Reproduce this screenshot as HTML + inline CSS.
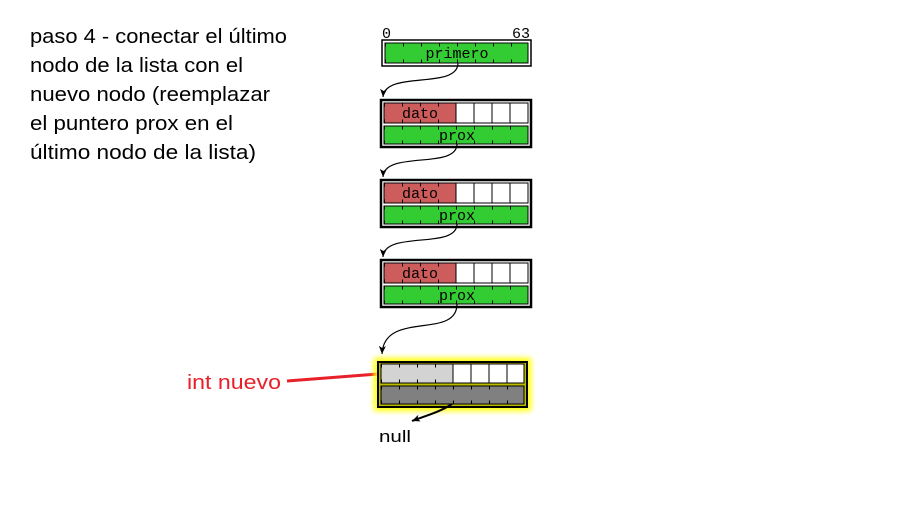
<!DOCTYPE html>
<html><head><meta charset="utf-8"><style>
html,body{margin:0;padding:0;background:#fff;width:910px;height:514px;overflow:hidden}
</style></head><body>
<svg width="910" height="514" viewBox="0 0 910 514" xmlns="http://www.w3.org/2000/svg">
<defs>
<marker id="ah" markerWidth="9" markerHeight="8" refX="8" refY="4" orient="auto" markerUnits="userSpaceOnUse"><path d="M0,0.5 L8,4 L0,7.5 L2,4 Z" fill="#000"/></marker>
<filter id="glow" x="-20%" y="-40%" width="140%" height="180%"><feGaussianBlur stdDeviation="3"/></filter>
</defs>
<g font-family="Liberation Sans, sans-serif" font-size="20" fill="#000">
<text x="30" y="43" textLength="257" lengthAdjust="spacingAndGlyphs">paso 4 - conectar el último</text>
<text x="30" y="72" textLength="213" lengthAdjust="spacingAndGlyphs">nodo de la lista con el</text>
<text x="30" y="101" textLength="240" lengthAdjust="spacingAndGlyphs">nuevo nodo (reemplazar</text>
<text x="30" y="130" textLength="203" lengthAdjust="spacingAndGlyphs">el puntero prox en el</text>
<text x="30" y="159" textLength="226" lengthAdjust="spacingAndGlyphs">último nodo de la lista)</text>
<text x="187" y="389" fill="#e8202a" textLength="94" lengthAdjust="spacingAndGlyphs">int nuevo</text>
<text x="379" y="442" font-size="17" textLength="32" lengthAdjust="spacingAndGlyphs">null</text>
</g>
<line x1="287" y1="381" x2="378" y2="374" stroke="#e8202a" stroke-width="3"/>

<g font-family="Liberation Mono, monospace" font-size="15">
<text x="382" y="38">0</text><text x="512" y="38">63</text>
</g>

<!-- primero -->
<rect x="382" y="40" width="149" height="26" fill="#fff" stroke="#000" stroke-width="1.5"/>
<rect x="385" y="43" width="143" height="20" fill="#33cc33" stroke="#000" stroke-width="1"/>
<line x1="385" y1="45" x2="528" y2="45" stroke="#000" stroke-width="3" stroke-dasharray="1 17" stroke-dashoffset="-18"/>
<line x1="385" y1="61" x2="528" y2="61" stroke="#000" stroke-width="3" stroke-dasharray="1 17" stroke-dashoffset="-18"/>
<text x="457" y="58" font-family="Liberation Mono, monospace" font-size="15" text-anchor="middle">primero</text>

<g id="n1">
<rect x="381" y="100" width="150" height="47" fill="#fff" stroke="#000" stroke-width="2.5"/>
<rect x="384" y="103" width="72" height="20" fill="#cd5c5c" stroke="#000"/>
<rect x="456" y="103" width="18" height="20" fill="#fff" stroke="#000"/>
<rect x="474" y="103" width="18" height="20" fill="#fff" stroke="#000"/>
<rect x="492" y="103" width="18" height="20" fill="#fff" stroke="#000"/>
<rect x="510" y="103" width="18" height="20" fill="#fff" stroke="#000"/>
<line x1="384" y1="105" x2="456" y2="105" stroke="#000" stroke-width="3" stroke-dasharray="1 17" stroke-dashoffset="-18"/>
<line x1="384" y1="121" x2="456" y2="121" stroke="#000" stroke-width="3" stroke-dasharray="1 17" stroke-dashoffset="-18"/>
<text x="420" y="118" font-family="Liberation Mono, monospace" font-size="15" text-anchor="middle">dato</text>
<rect x="384" y="126" width="144" height="18" fill="#33cc33" stroke="#000"/>
<line x1="384" y1="128" x2="528" y2="128" stroke="#000" stroke-width="3" stroke-dasharray="1 17" stroke-dashoffset="-18"/>
<line x1="384" y1="142" x2="528" y2="142" stroke="#000" stroke-width="3" stroke-dasharray="1 17" stroke-dashoffset="-18"/>
<text x="457" y="140" font-family="Liberation Mono, monospace" font-size="15" text-anchor="middle">prox</text>
</g>
<use href="#n1" y="80"/>
<use href="#n1" y="160"/>

<g fill="none" stroke="#000" stroke-width="1.2">
<path d="M458,63 C458,90 385,70 383,97" marker-end="url(#ah)"/>
<path d="M457,144 C457,170 384,150 383,177" marker-end="url(#ah)"/>
<path d="M457,224 C457,250 384,230 383,257" marker-end="url(#ah)"/>
<path d="M457,304 C457,340 384,310 382,354" marker-end="url(#ah)"/>
</g>

<!-- new node -->
<rect x="374" y="358" width="157" height="53" fill="#ffff00" filter="url(#glow)"/>
<rect x="378" y="362" width="149" height="45" fill="#bbbb00" stroke="#000" stroke-width="2"/>
<rect x="381" y="364" width="72" height="19" fill="#d3d3d3" stroke="#000"/>
<rect x="453" y="364" width="18" height="19" fill="#fff" stroke="#000"/>
<rect x="471" y="364" width="18" height="19" fill="#fff" stroke="#000"/>
<rect x="489" y="364" width="18" height="19" fill="#fff" stroke="#000"/>
<rect x="507" y="364" width="17" height="19" fill="#fff" stroke="#000"/>
<line x1="381" y1="366" x2="453" y2="366" stroke="#000" stroke-width="3" stroke-dasharray="1 17" stroke-dashoffset="-18"/>
<line x1="381" y1="381" x2="453" y2="381" stroke="#000" stroke-width="3" stroke-dasharray="1 17" stroke-dashoffset="-18"/>
<rect x="381" y="386" width="143" height="18" fill="#808080" stroke="#000"/>
<line x1="381" y1="388" x2="524" y2="388" stroke="#000" stroke-width="3" stroke-dasharray="1 17" stroke-dashoffset="-18"/>
<line x1="381" y1="402" x2="524" y2="402" stroke="#000" stroke-width="3" stroke-dasharray="1 17" stroke-dashoffset="-18"/>
<path d="M452,404 C440,412 425,416 412,421" fill="none" stroke="#000" stroke-width="2" marker-end="url(#ah)"/>
</svg>
</body></html>
